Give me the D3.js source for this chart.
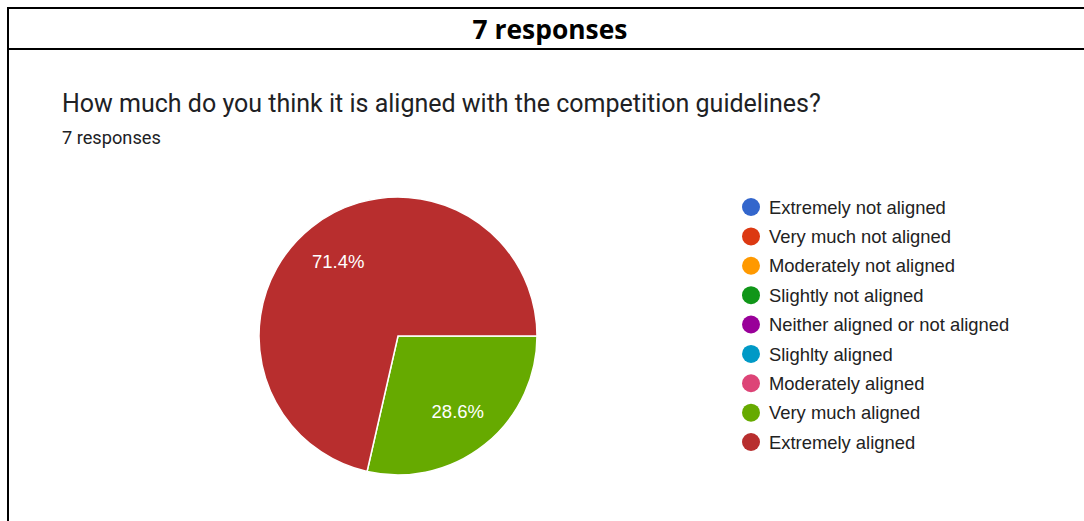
<!DOCTYPE html>
<html>
<head>
<meta charset="utf-8">
<script src="https://cdn.jsdelivr.net/npm/d3@7"></script>
<style>
  html, body { margin: 0; padding: 0; background: #fff; }
  svg { display: block; }
</style>
</head>
<body>
<svg id="chart-svg" width="1084" height="521"></svg>
<script>
const categories = [
    'Extremely not aligned',
    'Very much not aligned',
    'Moderately not aligned',
    'Slightly not aligned',
    'Neither aligned or not aligned',
    'Slighlty aligned',
    'Moderately aligned',
    'Very much aligned',
    'Extremely aligned'
];
const responseCounts = [0, 0, 0, 0, 0, 0, 0, 2, 5];
const sliceColors = ['#3366cc', '#dc3912', '#ff9900', '#109618', '#990099', '#0099c6', '#dd4477', '#66aa00', '#b82e2e'];
const headerText = '7 responses';
const questionText = 'How much do you think it is aligned with the competition guidelines?';
const subText = '7 responses';

const svg = d3.select('#chart-svg');
const width = 1084;

// frame: top rule, header rule, left rule
svg.append('line').attr('x1', 7).attr('x2', width).attr('y1', 8).attr('y2', 8)
    .attr('stroke', '#000').attr('stroke-width', 2);
svg.append('line').attr('x1', 7).attr('x2', width).attr('y1', 49).attr('y2', 49)
    .attr('stroke', '#000').attr('stroke-width', 2);
svg.append('line').attr('x1', 8).attr('x2', 8).attr('y1', 7).attr('y2', 521)
    .attr('stroke', '#000').attr('stroke-width', 2);

svg.append('text')
    .attr('x', 550).attr('y', 39)
    .attr('text-anchor', 'middle')
    .style('font-family', '"Open Sans", sans-serif')
    .style('font-weight', 'bold')
    .style('font-size', '26.4px')
    .style('fill', '#000')
    .text(headerText);

svg.append('text')
    .attr('x', 62).attr('y', 112)
    .style('font-family', 'Roboto, sans-serif')
    .style('font-size', '25px')
    .style('fill', '#202124')
    .text(questionText);

svg.append('text')
    .attr('x', 62).attr('y', 144)
    .style('font-family', 'Roboto, sans-serif')
    .style('font-size', '18.2px')
    .style('fill', '#202124')
    .text(subText);

// pie
const cx = 398, cy = 336, radius = 139;
const total = d3.sum(responseCounts);
const tableData = categories.map((name, i) => ({name, value: responseCounts[i], color: sliceColors[i]}));

const pie = d3.pie()
    .sort(null)
    .value(d => d.value)
    .startAngle(Math.PI / 2)
    .endAngle(Math.PI / 2 + 2 * Math.PI);
const arcs = pie(tableData).filter(a => a.data.value > 0);

const arc = d3.arc().innerRadius(0).outerRadius(radius);
const labelArc = d3.arc().innerRadius(radius * 0.69).outerRadius(radius * 0.69);

const pieGroup = svg.append('g').attr('transform', `translate(${cx},${cy})`);
pieGroup.selectAll('path')
    .data(arcs)
    .enter()
    .append('path')
    .attr('d', arc)
    .attr('fill', d => d.data.color)
    .attr('stroke', '#fff')
    .attr('stroke-width', 1.5);

pieGroup.selectAll('text')
    .data(arcs)
    .enter()
    .append('text')
    .attr('transform', d => `translate(${labelArc.centroid(d)})`)
    .attr('text-anchor', 'middle')
    .attr('dy', '0.36em')
    .style('font-family', 'Arial, "Liberation Sans", sans-serif')
    .style('font-size', '18.5px')
    .style('fill', '#fff')
    .text(d => (d.data.value / total * 100).toFixed(1) + '%');

// legend
const legendY = d3.scalePoint()
    .domain(categories)
    .range([207, 442]);
const legendGroup = svg.append('g');
const legendItems = legendGroup.selectAll('g')
    .data(tableData)
    .enter()
    .append('g')
    .attr('transform', d => `translate(751,${legendY(d.name)})`);
legendItems.append('circle')
    .attr('r', 9)
    .attr('fill', d => d.color);
legendItems.append('text')
    .attr('x', 18)
    .attr('dy', '0.36em')
    .style('font-family', 'Arial, "Liberation Sans", sans-serif')
    .style('font-size', '18.4px')
    .style('fill', '#222')
    .text(d => d.name);
</script>
</body>
</html>
